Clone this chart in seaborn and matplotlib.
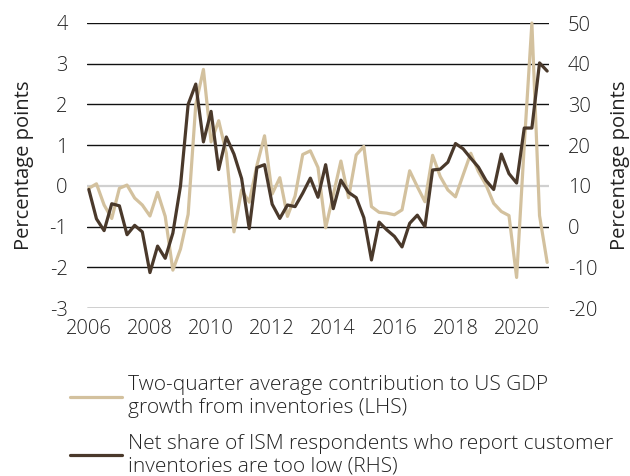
import matplotlib
matplotlib.use("Agg")
import matplotlib.pyplot as plt
import seaborn as sns
import numpy as np
import pandas as pd
from matplotlib.lines import Line2D

# quarterly observations, 2006Q1 .. 2021Q1 (61 points)
quarters = [2006 + 0.25 * i for i in range(61)]

gdp_inventories = [-0.06, 0.05, -0.47, -0.8, -0.06, 0.02, -0.3, -0.47, -0.74, -0.16,
                   -0.75, -2.07, -1.55, -0.7, 2.0, 2.86, 1.08, 1.6, 0.8, -1.13,
                   -0.1, -0.4, 0.5, 1.23, -0.2, 0.2, -0.75, -0.25, 0.77, 0.86,
                   0.45, -1.03, -0.22, 0.61, -0.29, 0.76, 0.97, -0.51, -0.65, -0.67,
                   -0.71, -0.59, 0.37, -0.02, -0.39, 0.75, 0.23, -0.1, -0.27, 0.27,
                   0.8, 0.35, 0.02, -0.43, -0.63, -0.73, -2.25, 1.0, 4.0, -0.73, -1.88]

ism_too_low = [9.1, 1.9, -1.0, 5.6, 5.1, -2.0, 0.3, -1.3, -11.3, -4.8,
               -7.8, -1.6, 10.0, 30.0, 35.0, 20.8, 28.3, 14.0, 22.0, 17.8,
               11.8, -0.5, 14.5, 15.2, 5.5, 2.0, 5.3, 4.9, 8.2, 11.9,
               7.2, 15.2, 4.4, 11.4, 8.4, 7.1, 2.2, -8.2, 1.1, -0.8,
               -2.4, -5.0, 0.8, 2.8, 0.0, 13.9, 14.1, 15.8, 20.4, 19.1,
               16.8, 14.6, 11.3, 9.1, 17.8, 13.0, 10.7, 24.2, 24.2, 40.2, 38.2]

left_ticks = [-3, -2, -1, 0, 1, 2, 3, 4]
right_ticks = [-20, -10, 0, 10, 20, 30, 40, 50]
year_ticks = [2006, 2008, 2010, 2012, 2014, 2016, 2018, 2020]

label_lhs = "Two-quarter average contribution to US GDP\ngrowth from inventories (LHS)"
label_rhs = "Net share of ISM respondents who report customer\ninventories are too low (RHS)"

LIGHT = "#d3c19e"
DARK = "#4a392b"
TXT = "#222222"
FS = 14.5

sns.set_theme(style="white")
plt.rcParams['font.family'] = ['Open Sans', 'DejaVu Sans']
plt.rcParams['font.weight'] = 'light'

df = pd.DataFrame({"q": quarters, "gdp": gdp_inventories, "ism": ism_too_low})

fig = plt.figure(figsize=(6.3, 4.76), dpi=100)
ax = fig.add_axes([87/630, 1-308/476, (549-87)/630, (308-23)/476])
ax2 = ax.twinx()

# gridlines
for t in left_ticks:
    ax.axhline(t, color="#d0d0d0" if t == 0 else "#111111", lw=1.0 if t != 0 else 1.6, zorder=0.5)

sns.lineplot(data=df, x="q", y="gdp", ax=ax, color=LIGHT, lw=2.3, clip_on=False, zorder=2)
sns.lineplot(data=df, x="q", y="ism", ax=ax2, color=DARK, lw=2.3, clip_on=False, zorder=3)

ax.set_xlim(2005.94, 2021.06)
ax.set_ylim(-3, 4)
ax2.set_ylim(-20, 50)
ax.set_xticks(year_ticks)
ax.set_yticks(left_ticks)
ax2.set_yticks(right_ticks)
ax.set_xticklabels([str(y) for y in year_ticks])
ax.set_yticklabels([str(t) for t in left_ticks])
ax2.set_yticklabels([str(t) for t in right_ticks])

for a in (ax, ax2):
    for s in a.spines.values():
        s.set_visible(False)
    a.grid(False)
    a.tick_params(length=0, labelsize=FS, colors=TXT)
ax.tick_params(axis="y", pad=14)
ax2.tick_params(axis="y", pad=13.5)
ax.tick_params(axis="x", pad=8)

ax.set_xlabel("")
ax.set_ylabel("Percentage points", fontsize=FS, color=TXT, labelpad=11)
ax2.set_ylabel("Percentage points", fontsize=FS, color=TXT, labelpad=9)

handles = [Line2D([0], [0], color=LIGHT, lw=2.3), Line2D([0], [0], color=DARK, lw=2.3)]
fig.legend(handles, [label_lhs, label_rhs], loc="upper left",
           bbox_to_anchor=(70/630, 1-375/476), frameon=False, fontsize=15,
           handlelength=2.5, handletextpad=0.3, labelspacing=0.75, borderpad=0,
           borderaxespad=0, labelcolor=TXT)

fig.savefig("out.png", dpi=100)
